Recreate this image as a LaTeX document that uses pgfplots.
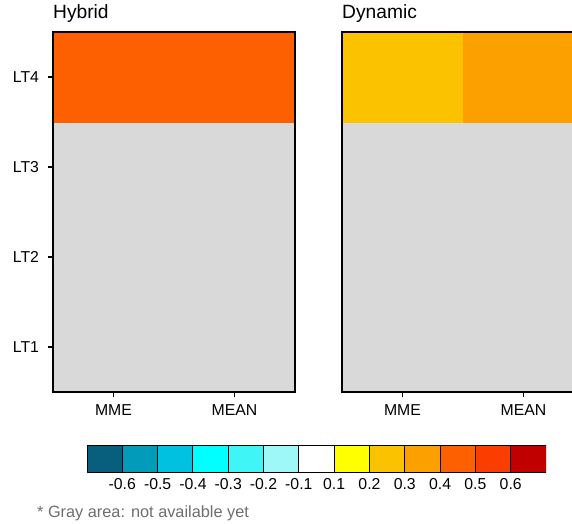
\documentclass[border=0pt]{standalone}
\usepackage{fontspec}
\setmainfont{Liberation Sans}
\usepackage{pgfplots}
\usepackage{pgfplotstable}
\pgfplotsset{compat=1.18}

\definecolor{cellgray}{RGB}{217,217,217}
\definecolor{notegray}{RGB}{110,110,110}

\pgfplotsset{
  colormap={ncl}{rgb255(0cm)=(8,95,125) rgb255(1cm)=(2,156,186) rgb255(2cm)=(0,194,224)
    rgb255(3cm)=(0,255,255) rgb255(4cm)=(64,245,245) rgb255(5cm)=(158,248,248)
    rgb255(6cm)=(255,255,255) rgb255(7cm)=(255,255,255) rgb255(8cm)=(255,255,0)
    rgb255(9cm)=(251,194,0) rgb255(10cm)=(252,160,0) rgb255(11cm)=(252,96,0)
    rgb255(12cm)=(252,61,0) rgb255(13cm)=(192,0,0) rgb255(14cm)=(192,0,0)},
  panel/.style={
    scale only axis, width=242pt, height=360pt,
    xmin=0, xmax=2, ymin=0, ymax=4,
    axis on top,
    axis background/.style={fill=cellgray},
    axis line style={line width=2pt, black},
    xtick={0.5,1.5}, xticklabels={MME,MEAN},
    tick align=outside, xtick pos=bottom, ytick pos=left,
    major tick length=5pt,
    tick style={line width=1.5pt, black},
    tick label style={font=\fontsize{15.8}{18}\selectfont},
    xticklabel style={yshift=-4.5pt},
    yticklabel style={xshift=-5.5pt},
    colormap name=ncl, colormap access=piecewise constant,
    point meta min=-0.7, point meta max=0.7,
    title style={at={(0,1)}, anchor=base west, yshift=8pt, inner sep=0pt,
      font=\fontsize{19.2}{22}\selectfont},
  },
}

% cell corners (x = column MME 0..1, MEAN 1..2; y = LT rows) with value
\pgfplotstableread{
x y v
0 3 0.45
1 3 0.45
1 4 0.45
0 4 0.45
1 3 0.45
2 3 0.45
2 4 0.45
1 4 0.45
}\hybrid

\pgfplotstableread{
x y v
0 3 0.25
1 3 0.25
1 4 0.25
0 4 0.25
1 3 0.35
2 3 0.35
2 4 0.35
1 4 0.35
}\dynamic

\pgfplotstableread{
x y v
0 0 -0.65
1 0 -0.65
1 1 -0.65
0 1 -0.65
1 0 -0.55
2 0 -0.55
2 1 -0.55
1 1 -0.55
2 0 -0.45
3 0 -0.45
3 1 -0.45
2 1 -0.45
3 0 -0.35
4 0 -0.35
4 1 -0.35
3 1 -0.35
4 0 -0.25
5 0 -0.25
5 1 -0.25
4 1 -0.25
5 0 -0.15
6 0 -0.15
6 1 -0.15
5 1 -0.15
6 0 0
7 0 0
7 1 0
6 1 0
7 0 0.15
8 0 0.15
8 1 0.15
7 1 0.15
8 0 0.25
9 0 0.25
9 1 0.25
8 1 0.25
9 0 0.35
10 0 0.35
10 1 0.35
9 1 0.35
10 0 0.45
11 0 0.45
11 1 0.45
10 1 0.45
11 0 0.55
12 0 0.55
12 1 0.55
11 1 0.55
12 0 0.65
13 0 0.65
13 1 0.65
12 1 0.65
}\cbar

\begin{document}
\begin{tikzpicture}
\begin{axis}[panel, at={(53pt,131pt)}, anchor=south west, title={Hybrid},
  ytick={0.5,1.5,2.5,3.5}, yticklabels={LT1,LT2,LT3,LT4}]
  \addplot[patch, patch type=rectangle, shader=flat, point meta=explicit]
    table[x=x, y=y, meta=v] {\hybrid};
\end{axis}
\begin{axis}[panel, at={(342pt,131pt)}, anchor=south west, title={Dynamic},
  ytick=\empty]
  \addplot[patch, patch type=rectangle, shader=flat, point meta=explicit]
    table[x=x, y=y, meta=v] {\dynamic};
\end{axis}
\begin{axis}[scale only axis, width=459pt, height=27pt, at={(87pt,51pt)}, anchor=south west,
  xmin=0, xmax=13, ymin=0, ymax=1,
  axis line style={draw=none}, ytick=\empty,
  xtick={1,2,3,4,5,6,7,8,9,10,11,12},
  xticklabels={-0.6,-0.5,-0.4,-0.3,-0.2,-0.1,0.1,0.2,0.3,0.4,0.5,0.6},
  xtick style={draw=none}, major tick length=0pt,
  xticklabel style={font=\fontsize{15.8}{18}\selectfont, yshift=-2.5pt},
  colormap name=ncl, colormap access=piecewise constant,
  point meta min=-0.7, point meta max=0.7]
  \addplot[patch, patch type=rectangle, shader=faceted, faceted color=black,
    line width=1pt, point meta=explicit]
    table[x=x, y=y, meta=v] {\cbar};
\end{axis}
\node[anchor=base west, inner sep=0pt, text=notegray,
  font=\fontsize{16.3}{19}\selectfont] at (37pt,6pt) {* Gray area: not available yet};
\pgfresetboundingbox
\useasboundingbox (0pt,0pt) rectangle (572pt,523pt);
\end{tikzpicture}
\end{document}
